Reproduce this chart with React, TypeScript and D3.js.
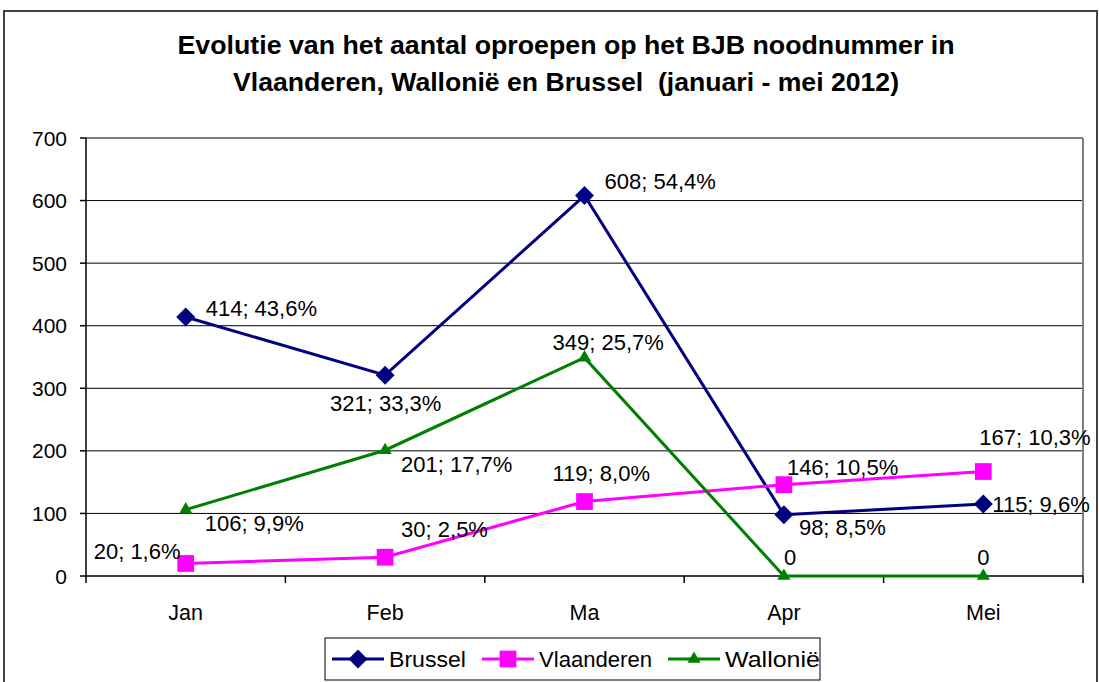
import React from "react";
import * as d3 from "d3";

// Data
const months = ["Jan", "Feb", "Ma", "Apr", "Mei"];
const brussel = [414, 321, 608, 98, 115];
const vlaanderen = [20, 30, 119, 146, 167];
const wallonie = [106, 201, 349, 0, 0];
const brusselPct = ["43,6%", "33,3%", "54,4%", "8,5%", "9,6%"];
const vlaanderenPct = ["1,6%", "2,5%", "8,0%", "10,5%", "10,3%"];
const walloniePct = ["9,9%", "17,7%", "25,7%", "", ""];
const yTicks = [0, 100, 200, 300, 400, 500, 600, 700];

const W = 1099;
const H = 682;
const margin = { left: 86, right: 1083, top: 138, bottom: 576 };
const FONT = "Arial, 'Liberation Sans', sans-serif";

// label placement relative to point: [dx, dy]
const brusselLbl: [number, number][] = [[20, -1], [-55, 36], [20, -7], [15, 20], [9, 8]];
const vlaanderenLbl: [number, number][] = [[-92, -4], [16, -20], [-32, -21], [3, -10], [-4, -27]];
const wallonieLbl: [number, number][] = [[19, 21], [16, 22], [-32, -8], [0, -11], [-6, -11]];

// legend layout: line start, text width
const legendX = [332, 482, 668];
const legendW = [77, 113, 95];

const App = () => {
  const x = d3.scaleBand<string>().domain(months).range([margin.left, margin.right]);
  const y = d3.scaleLinear().domain([0, 700]).range([margin.bottom, margin.top]);
  const cx = (m: string) => (x(m) as number) + x.bandwidth() / 2;

  const line = (vals: number[]) =>
    d3.line<number>().x((_, i) => cx(months[i])).y((v) => y(v))(vals) as string;

  const diamond = d3.symbol().type(d3.symbolSquare).size(180)() as string;
  const square = d3.symbol().type(d3.symbolSquare).size(280)() as string;
  const triangle = d3.symbol().type(d3.symbolTriangle).size(75)() as string;

  const series = [
    { name: "Brussel", vals: brussel, pct: brusselPct, color: "#000080", marker: diamond, rot: 45, lbl: brusselLbl },
    { name: "Vlaanderen", vals: vlaanderen, pct: vlaanderenPct, color: "#FF00FF", marker: square, rot: 0, lbl: vlaanderenLbl },
    { name: "Wallonië", vals: wallonie, pct: walloniePct, color: "#008000", marker: triangle, rot: 0, lbl: wallonieLbl },
  ];

  const boundaries = months.map((m) => x(m) as number).concat([margin.right]);

  return (
    <svg width={W} height={H} style={{ position: "absolute", left: 0, top: 0, background: "#fff" }} fontFamily={FONT}>
      {/* outer frame */}
      <rect x={4} y={11} width={1093} height={690} fill="#fff" stroke="#404040" strokeWidth={2} />

      {/* title */}
      <text x={566} y={54} textAnchor="middle" fontSize={26} fontWeight="bold" textLength={777} lengthAdjust="spacingAndGlyphs">
        Evolutie van het aantal oproepen op het BJB noodnummer in
      </text>
      <text x={566} y={91} textAnchor="middle" fontSize={26} fontWeight="bold" textLength={666} lengthAdjust="spacingAndGlyphs" style={{ whiteSpace: "pre" }}>
        {"Vlaanderen, Wallonië en Brussel  (januari - mei 2012)"}
      </text>

      {/* gridlines */}
      {yTicks.slice(1, -1).map((t) => (
        <line key={t} x1={margin.left} x2={margin.right} y1={y(t)} y2={y(t)} stroke="#000" strokeWidth={1} />
      ))}
      <line x1={margin.left} x2={margin.right} y1={y(700)} y2={y(700)} stroke="#808080" strokeWidth={2} />
      <line x1={margin.right} x2={margin.right} y1={margin.top} y2={margin.bottom} stroke="#808080" strokeWidth={2} />

      {/* y axis */}
      <line x1={margin.left} x2={margin.left} y1={margin.top} y2={margin.bottom} stroke="#000" strokeWidth={1.5} />
      {yTicks.map((t) => (
        <g key={t}>
          <line x1={margin.left - 6} x2={margin.left} y1={y(t)} y2={y(t)} stroke="#000" strokeWidth={1.5} />
          <text x={67} y={y(t) + 7.5} textAnchor="end" fontSize={21}>{t}</text>
        </g>
      ))}

      {/* x axis */}
      <line x1={margin.left} x2={margin.right} y1={margin.bottom} y2={margin.bottom} stroke="#000" strokeWidth={1.5} />
      {boundaries.map((b, i) => (
        <line key={i} x1={b} x2={b} y1={margin.bottom} y2={margin.bottom + 7} stroke="#000" strokeWidth={1.5} />
      ))}
      {months.map((m) => (
        <text key={m} x={cx(m)} y={620} textAnchor="middle" fontSize={21.5}>{m}</text>
      ))}

      {/* series */}
      {series.map((s) => (
        <g key={s.name}>
          <path d={line(s.vals)} fill="none" stroke={s.color} strokeWidth={3} />
          {s.vals.map((v, i) => (
            <path key={i} d={s.marker} transform={`translate(${cx(months[i])},${y(v)}) rotate(${s.rot})`} fill={s.color} />
          ))}
        </g>
      ))}

      {/* data labels */}
      {series.map((s) =>
        s.vals.map((v, i) => (
          <text key={s.name + i} x={cx(months[i]) + s.lbl[i][0]} y={y(v) + s.lbl[i][1]} fontSize={22}>
            {s.pct[i] ? `${v}; ${s.pct[i]}` : `${v}`}
          </text>
        ))
      )}

      {/* legend */}
      <rect x={325} y={638} width={495} height={42} fill="#fff" stroke="#000" strokeWidth={1} />
      {series.map((s, i) => (
        <g key={s.name}>
          <line x1={legendX[i]} x2={legendX[i] + 52} y1={659} y2={659} stroke={s.color} strokeWidth={3} />
          <path d={s.marker} transform={`translate(${legendX[i] + 26},659) rotate(${s.rot})`} fill={s.color} />
          <text x={legendX[i] + 57} y={667} fontSize={22.5} textLength={legendW[i]} lengthAdjust="spacingAndGlyphs">{s.name}</text>
        </g>
      ))}
    </svg>
  );
};

export default App;
